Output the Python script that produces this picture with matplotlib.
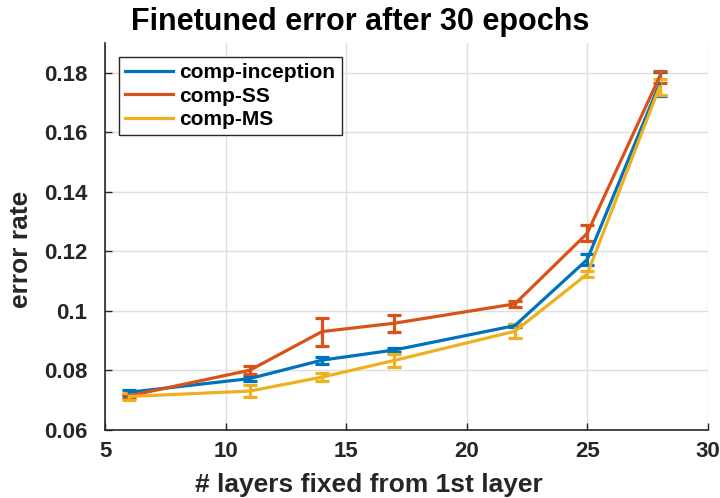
import matplotlib.pyplot as plt
from matplotlib.lines import Line2D

plt.rcParams['font.family'] = ['Liberation Sans', 'DejaVu Sans']
plt.rcParams['font.weight'] = 'bold'

layers = [6, 11, 14, 17, 22, 25, 28]

inception = [0.0726, 0.0772, 0.0834, 0.0868, 0.0950, 0.1172, 0.1762]
inception_err = [0.0008, 0.0007, 0.0012, 0.0007, 0.0006, 0.0018, 0.0040]

ss = [0.0714, 0.0800, 0.0930, 0.0958, 0.1023, 0.1260, 0.1786]
ss_err = [0.0006, 0.0014, 0.0047, 0.0029, 0.0010, 0.0027, 0.0020]

ms = [0.0712, 0.0730, 0.0777, 0.0833, 0.0931, 0.1123, 0.1752]
ms_err = [0.0011, 0.0020, 0.0014, 0.0021, 0.0023, 0.0010, 0.0028]

names = ["comp-inception", "comp-SS", "comp-MS"]
colors = ["#0072BD", "#D95319", "#EDB120"]


def main():
    fig = plt.figure(figsize=(7.2, 4.98), dpi=100)
    ax = fig.add_axes([0.146, 0.137, 0.837, 0.777])

    series = [(inception, inception_err), (ss, ss_err), (ms, ms_err)]
    handles = []
    for (vals, errs), name, c in zip(series, names, colors):
        ax.errorbar(layers, vals, yerr=errs, color=c, lw=2.3, capsize=5,
                    capthick=2.3, elinewidth=2.3)
        handles.append(Line2D([0], [0], color=c, lw=2.3, label=name))

    ax.set_xlim(5, 30)
    ax.set_ylim(0.06, 0.19)
    ax.set_xticks([5, 10, 15, 20, 25, 30])
    ax.set_yticks([0.06, 0.08, 0.1, 0.12, 0.14, 0.16, 0.18])
    ax.set_yticklabels(["0.06", "0.08", "0.1", "0.12", "0.14", "0.16", "0.18"])
    ax.grid(True, color="#dedede", lw=1)
    ax.set_axisbelow(True)
    for s in ["top", "right"]:
        ax.spines[s].set_visible(False)
    for s in ["left", "bottom"]:
        ax.spines[s].set_color("#262626")
        ax.spines[s].set_linewidth(1.2)
    ax.tick_params(direction="in", length=5, labelsize=16, colors="#262626",
                   width=1)
    ax.tick_params(axis="y", pad=13)
    ax.tick_params(axis="x", pad=8)

    fig.text(0.5, 0.94, "Finetuned error after 30 epochs", fontsize=22,
             fontweight="bold", ha="center", va="baseline")
    fig.text(0.513, 0.012, "# layers fixed from 1st layer", fontsize=19,
             fontweight="bold", color="#262626", ha="center", va="baseline")
    ax.set_ylabel("error rate", fontsize=19, fontweight="bold",
                  color="#262626")
    ax.yaxis.set_label_coords(-0.119, 0.465)

    leg = ax.legend(handles=handles, loc="upper left",
                    bbox_to_anchor=(0.023, 0.964), fontsize=15,
                    fancybox=False, framealpha=1, edgecolor="#262626",
                    handlelength=2.3, borderaxespad=0, labelspacing=0.22,
                    borderpad=0.3, handletextpad=0.3)
    leg.get_frame().set_linewidth(1)

    plt.savefig("out.png", dpi=100)


if __name__ == '__main__':
    main()
